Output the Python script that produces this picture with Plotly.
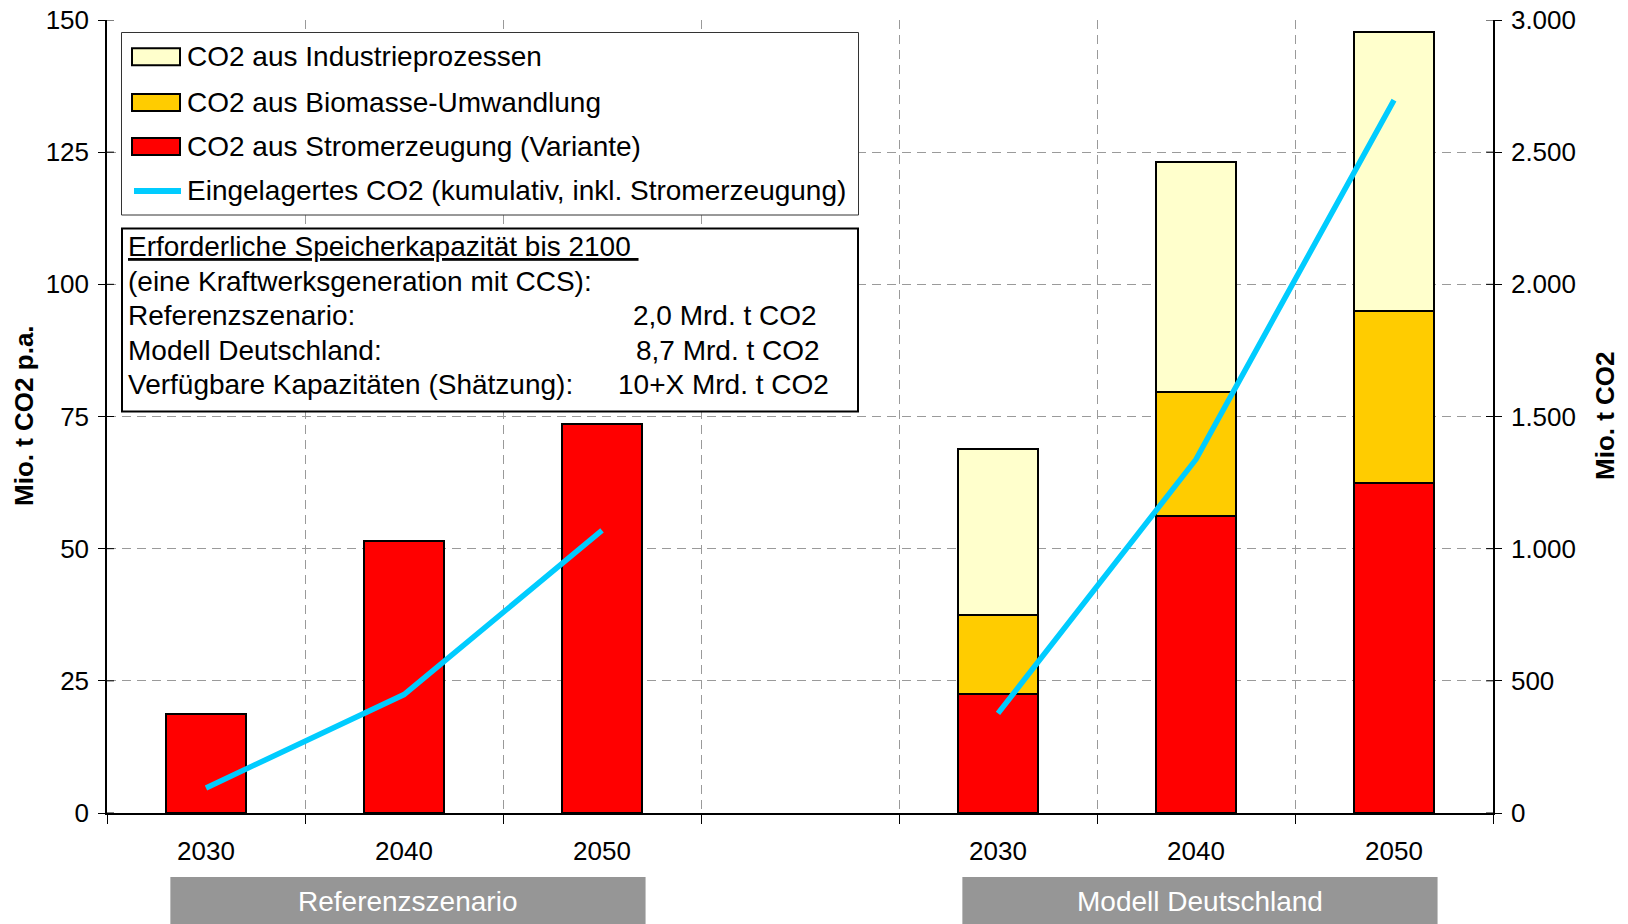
import plotly.graph_objects as go

# ---- data -------------------------------------------------------------
categories = ["2030", "2040", "2050", "", "2030", "2040", "2050"]
strom = [18.8, 51.4, 73.6, None, 22.6, 56.2, 62.4]          # Mio. t CO2 p.a.
biomasse = [None, None, None, None, 14.85, 23.4, 32.5]      # Mio. t CO2 p.a.
industrie = [None, None, None, None, 31.35, 43.5, 52.9]     # Mio. t CO2 p.a.
kumulativ = [95, 448, 1069, None, 377, 1338, 2697]          # Mio. t CO2 (cumulative)

series_names = [
    "CO2 aus Industrieprozessen",
    "CO2 aus Biomasse-Umwandlung",
    "CO2 aus Stromerzeugung (Variante)",
    "Eingelagertes CO2 (kumulativ, inkl. Stromerzeugung)",
]
groups = ["Referenzszenario", "Modell Deutschland"]
group_spans = [(0, 2), (4, 6)]

info_title = "Erforderliche Speicherkapazität bis 2100"
info_lines = ["(eine Kraftwerksgeneration mit CCS):",
              "Referenzszenario:", "Modell Deutschland:",
              "Verfügbare Kapazitäten (Shätzung):"]
info_values = ["", "2,0 Mrd. t CO2", "8,7 Mrd. t CO2", "10+X Mrd. t CO2"]

y_ticks = [0, 25, 50, 75, 100, 125, 150]
y2_ticks = [0, 500, 1000, 1500, 2000, 2500, 3000]

# ---- styling ----------------------------------------------------------
FONT = "Liberation Sans, Arial, Helvetica, sans-serif"
C_IND, C_BIO, C_STROM, C_LINE = "#FFFFCC", "#FFCC00", "#FF0000", "#00CCFF"
GRID = "#9A9A9A"
TXT = 28

W, H = 1628, 924
ML, MR, MT, MB = 107, 135, 20, 111
PW, PH = W - ML - MR, H - MT - MB


def fx(p):
    """pixel x -> paper x"""
    return (p - ML) / PW


def fy(p):
    """pixel y -> paper y"""
    return (H - MB - p) / PH


xpos = list(range(len(categories)))

fig = go.Figure()
bar_style = dict(width=0.4, marker_line_color="black", marker_line_width=2,
                 showlegend=False, hoverinfo="skip")
fig.add_bar(x=xpos, y=strom, name=series_names[2], marker_color=C_STROM, **bar_style)
fig.add_bar(x=xpos, y=biomasse, name=series_names[1], marker_color=C_BIO, **bar_style)
fig.add_bar(x=xpos, y=industrie, name=series_names[0], marker_color=C_IND, **bar_style)
fig.add_scatter(x=xpos, y=kumulativ, yaxis="y2", mode="lines", name=series_names[3],
                line=dict(color=C_LINE, width=5.5), connectgaps=False,
                showlegend=False, hoverinfo="skip")

shapes = []
annotations = []

# crossing tick halves on both value axes
for v in y_ticks:
    shapes.append(dict(type="line", xref="paper", xsizemode="pixel", xanchor=0,
                       x0=0, x1=7, yref="y", y0=v, y1=v,
                       line=dict(color="black", width=1)))
for v in y2_ticks:
    shapes.append(dict(type="line", xref="paper", xsizemode="pixel", xanchor=1,
                       x0=-7, x1=0, yref="y2", y0=v, y1=v,
                       line=dict(color="black", width=1)))

# legend frame
shapes.append(dict(type="rect", xref="paper", yref="paper",
                   x0=fx(121.5), x1=fx(858.5), y0=fy(32.5), y1=fy(215),
                   fillcolor="white", line=dict(color="#333333", width=1)))
leg_y = [56.7, 102.5, 146.5, 191]
for name, col, yc in zip(series_names[:3], [C_IND, C_BIO, C_STROM], leg_y[:3]):
    shapes.append(dict(type="rect", xref="paper", yref="paper",
                       x0=fx(132), x1=fx(180), y0=fy(yc - 8.5), y1=fy(yc + 8.5),
                       fillcolor=col, line=dict(color="black", width=2)))
shapes.append(dict(type="line", xref="paper", yref="paper",
                   x0=fx(134), x1=fx(181), y0=fy(leg_y[3]), y1=fy(leg_y[3]),
                   line=dict(color=C_LINE, width=6)))
for name, yc in zip(series_names, leg_y):
    annotations.append(dict(text=name, xref="paper", yref="paper", x=fx(185), y=fy(yc),
                            xanchor="left", yanchor="middle", showarrow=False,
                            font=dict(size=TXT, color="black")))

# info box
shapes.append(dict(type="rect", xref="paper", yref="paper",
                   x0=fx(122), x1=fx(858), y0=fy(228.5), y1=fy(411.5),
                   fillcolor="white", line=dict(color="black", width=2)))
info_y = [247, 281.5, 315.8, 350, 384.3]
annotations.append(dict(text="<u>" + info_title + "\u00a0</u>", xref="paper", yref="paper",
                        x=fx(126), y=fy(info_y[0]), xanchor="left", yanchor="middle",
                        showarrow=False, font=dict(size=TXT, color="black")))
val_x = [0, 631, 634, 616]
for txt, val, vx, yc in zip(info_lines, info_values, val_x, info_y[1:]):
    annotations.append(dict(text=txt, xref="paper", yref="paper", x=fx(126), y=fy(yc),
                            xanchor="left", yanchor="middle", showarrow=False,
                            font=dict(size=TXT, color="black")))
    if val:
        annotations.append(dict(text=val, xref="paper", yref="paper", x=fx(vx), y=fy(yc),
                                xanchor="left", yanchor="middle", showarrow=False,
                                font=dict(size=TXT, color="black")))

# scenario boxes under the category labels
for g, (a, b) in zip(groups, group_spans):
    shapes.append(dict(type="rect", xref="x", yref="paper",
                       x0=a - 0.18, x1=b + 0.22, y0=fy(877), y1=fy(935),
                       fillcolor="#969696", line=dict(width=0), layer="above"))
    annotations.append(dict(text=g, xref="x", yref="paper", x=(a + b) / 2 + 0.02,
                            y=fy(901), xanchor="center", yanchor="middle",
                            showarrow=False, font=dict(size=TXT, color="white")))

# axis titles
annotations.append(dict(text="<b>Mio. t CO2 p.a.</b>", xref="paper", yref="paper",
                        x=fx(24), y=fy(416), textangle=-90, showarrow=False,
                        xanchor="center", yanchor="middle",
                        font=dict(size=26, color="black")))
annotations.append(dict(text="<b>Mio. t CO2</b>", xref="paper", yref="paper",
                        x=fx(1605), y=fy(416), textangle=-90, showarrow=False,
                        xanchor="center", yanchor="middle",
                        font=dict(size=26, color="black")))

tick_x = [i for i, c in enumerate(categories) if c]
tick_t = [c for c in categories if c]
bounds = [i - 0.5 for i in range(len(categories) + 1)]

fig.update_layout(
    width=W, height=H,
    margin=dict(l=ML, r=MR, t=MT, b=MB, pad=0, autoexpand=False),
    paper_bgcolor="white", plot_bgcolor="white",
    font=dict(family=FONT, color="black", size=26),
    separators=",.",
    barmode="stack", bargap=0,
    showlegend=False,
    xaxis=dict(range=[-0.5, len(categories) - 0.5], tickmode="array",
               tickvals=tick_x, ticktext=tick_t, ticks="", showgrid=False,
               zeroline=False, showline=True, linecolor="black", linewidth=1.5,
               tickfont=dict(size=26), ticklabelstandoff=14, automargin=False,
               minor=dict(tickmode="array", tickvals=bounds, ticks="outside",
                          ticklen=9, tickcolor="black", tickwidth=1,
                          showgrid=True, gridcolor=GRID, griddash="9px,6px",
                          gridwidth=1)),
    yaxis=dict(range=[0, 150], tickmode="array", tickvals=y_ticks,
               ticks="outside", ticklen=7, tickcolor="black",
               showline=True, linecolor="black", linewidth=1.5,
               showgrid=True, gridcolor=GRID, griddash="9px,6px", gridwidth=1,
               zeroline=False, tickfont=dict(size=26), ticklabelstandoff=4,
               automargin=False),
    yaxis2=dict(range=[0, 3000], tickmode="array", tickvals=y2_ticks,
                tickformat=",d", overlaying="y", side="right",
                ticks="outside", ticklen=7, tickcolor="black",
                showline=True, linecolor="black", linewidth=1.5,
                showgrid=False, zeroline=False, tickfont=dict(size=26),
                ticklabelstandoff=4, automargin=False),
    shapes=shapes,
    annotations=annotations,
)

fig.write_html("out.html", config={"displayModeBar": False})
